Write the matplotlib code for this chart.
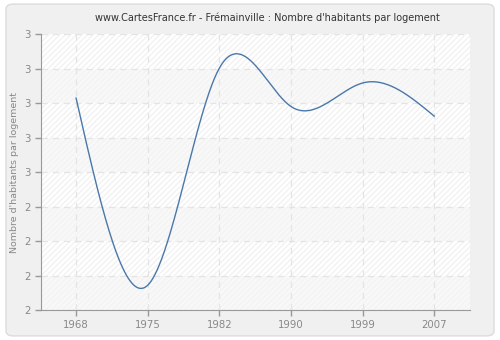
import numpy as np
import matplotlib
matplotlib.use("Agg")
import matplotlib.pyplot as plt
from matplotlib.patches import FancyBboxPatch

# ================================================================================================
# Data
# ================================================================================================
years = ["1968", "1975", "1982", "1990", "1999", "2007"]
values = [2.714, 2.172, 2.801, 2.690, 2.758, 2.662]
ytick_values = [2.1, 2.2, 2.3, 2.4, 2.5, 2.6, 2.7, 2.8, 2.9]
ytick_labels = ["2", "2", "2", "2", "3", "3", "3", "3", "3"]


def natural_spline(x, y, xs):
    # natural cubic spline, used only to draw the smoothed line through the points
    x = np.asarray(x, float)
    y = np.asarray(y, float)
    n = len(x)
    h = np.diff(x)
    A = np.zeros((n, n))
    b = np.zeros(n)
    A[0, 0] = A[-1, -1] = 1
    for i in range(1, n - 1):
        A[i, i - 1] = h[i - 1]
        A[i, i] = 2 * (h[i - 1] + h[i])
        A[i, i + 1] = h[i]
        b[i] = 3 * ((y[i + 1] - y[i]) / h[i] - (y[i] - y[i - 1]) / h[i - 1])
    c = np.linalg.solve(A, b)
    out = np.empty_like(xs)
    for k, t in enumerate(xs):
        i = min(max(np.searchsorted(x, t) - 1, 0), n - 2)
        dx = t - x[i]
        bi = (y[i + 1] - y[i]) / h[i] - h[i] * (2 * c[i] + c[i + 1]) / 3
        di = (c[i + 1] - c[i]) / (3 * h[i])
        out[k] = y[i] + bi * dx + c[i] * dx ** 2 + di * dx ** 3
    return out


# ================================================================================================
# Figure
# ================================================================================================
fig = plt.figure(figsize=(5, 3.4), dpi=100)
fig.patch.set_facecolor("white")
bg = FancyBboxPatch((0.012, 0.012), 0.976, 0.976, boxstyle="round,pad=0,rounding_size=0.015",
                    transform=fig.transFigure, facecolor="#f0f0f0", edgecolor="#dcdcdc",
                    linewidth=1, zorder=-10)
fig.patches.append(bg)

ax = fig.add_axes([0.082, 0.088, 0.858, 0.812])
ax.set_facecolor("#ffffff")
ax.patch.set_hatch("//////")
ax.patch.set_edgecolor("#f2f2f2")
ax.patch.set_linewidth(0)

pos = np.arange(len(years))
ax.set_xlim(-0.49, len(years) - 0.5)
ax.set_ylim(2.1, 2.9)

# alternating bands
for lo, hi in [(2.1, 2.2), (2.3, 2.4), (2.5, 2.6), (2.7, 2.8)]:
    ax.axhspan(lo, hi, facecolor="#f4f4f4", alpha=0.6, edgecolor="none", zorder=0.5)

xs = np.linspace(0, len(years) - 1, 400)
ax.plot(xs, natural_spline(pos, values, xs), color="#4a78aa", linewidth=1.0, zorder=3)

ax.set_xticks(pos)
ax.set_xticklabels(years)
ax.set_yticks(ytick_values)
ax.set_yticklabels(ytick_labels)

ax.grid(True, color="#e4e4e4", linestyle=(0, (5, 4)), linewidth=0.9, zorder=1)
ax.set_axisbelow(True)

for s in ["top", "right"]:
    ax.spines[s].set_visible(False)
for s in ["left", "bottom"]:
    ax.spines[s].set_color("#999999")
ax.tick_params(colors="#999999", labelcolor="#888888", labelsize=7.3, length=4, width=1)

ax.set_ylabel("Nombre d'habitants par logement", color="#888888", fontsize=6.8)
fig.text(0.535, 0.948, "www.CartesFrance.fr - Frémainville : Nombre d'habitants par logement",
         ha="center", va="center", fontsize=7.0, color="#333333")

fig.savefig("out.png", dpi=100, facecolor=fig.get_facecolor())
